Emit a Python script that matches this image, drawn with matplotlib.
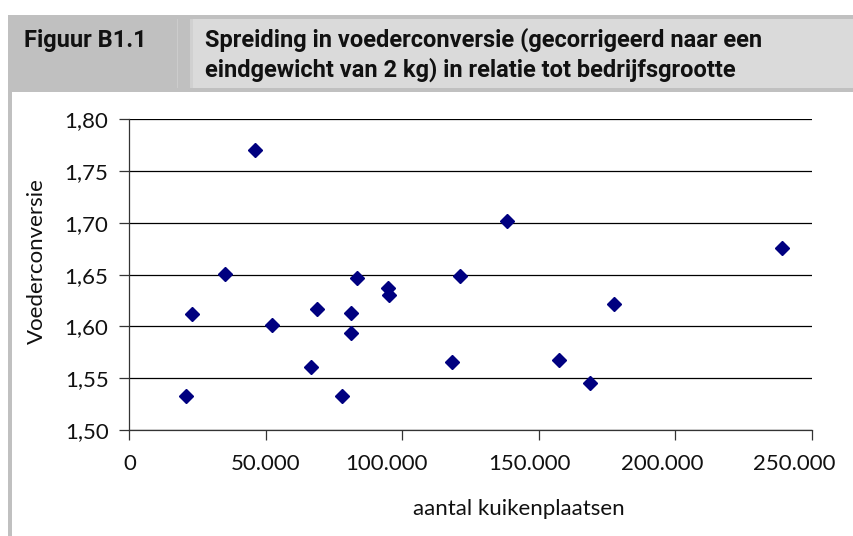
import matplotlib
matplotlib.use("Agg")
import matplotlib.pyplot as plt
from matplotlib.patches import Rectangle
from matplotlib.ticker import FuncFormatter, MultipleLocator

# aantal kuikenplaatsen vs voederconversie
kuikenplaatsen = [20900, 23100, 35200, 46200, 52400, 66400, 68900, 78100,
                  81400, 81400, 83600, 94600, 95300, 118400, 121000, 138200,
                  157600, 168600, 177400, 239000]
voederconversie = [1.533, 1.612, 1.651, 1.770, 1.601, 1.561, 1.617, 1.533,
                   1.613, 1.594, 1.647, 1.637, 1.630, 1.566, 1.649, 1.702,
                   1.568, 1.545, 1.622, 1.676]

x_ticks = [0, 50000, 100000, 150000, 200000, 250000]
figuur_nr = "Figuur B1.1"
titel = ["Spreiding in voederconversie (gecorrigeerd naar een",
         "eindgewicht van 2 kg) in relatie tot bedrijfsgrootte"]
x_label = "aantal kuikenplaatsen"
y_label = "Voederconversie"

W, H = 854, 536
fig = plt.figure(figsize=(W / 100, H / 100), dpi=100)


def fx(px):
    return px / W


def fy(py):
    return 1 - py / H


def rect(x0, y0, x1, y1, color):
    fig.add_artist(Rectangle((fx(x0), fy(y1)), fx(x1) - fx(x0), fy(y0) - fy(y1),
                             transform=fig.transFigure, facecolor=color,
                             edgecolor="none", zorder=0))


# kop-balk
rect(8, 15, 854, 92, "#c0c0c0")
rect(193, 19, 854, 88, "#dadada")
rect(177, 19, 178, 88, "#cccccc")
rect(190, 19, 193, 88, "#d0d0d0")
# grijze balk links
rect(8, 92, 12, 536, "#c0c0c0")

head_font = ["Roboto", "DejaVu Sans"]
fig.text(fx(24), fy(47), figuur_nr, fontsize=17, fontweight="bold",
         family=head_font, va="baseline", ha="left", color="#111111")
fig.text(fx(205), fy(47), titel[0], fontsize=17, fontweight="bold",
         family=head_font, va="baseline", ha="left", color="#111111")
fig.text(fx(205), fy(77), titel[1], fontsize=17, fontweight="bold",
         family=head_font, va="baseline", ha="left", color="#111111")

ax = fig.add_axes([fx(129.3), fy(430), fx(811.7) - fx(129.3), fy(119.3) - fy(430)])
ax.plot(kuikenplaatsen, voederconversie, linestyle="none", marker="D",
        ms=7, color="#000080", zorder=3, clip_on=False)

ax.set_xlim(0, 250000)
ax.set_ylim(1.50, 1.80)
ax.set_xticks(x_ticks)
ax.yaxis.set_major_locator(MultipleLocator(0.05))
ax.yaxis.set_major_formatter(FuncFormatter(lambda v, p: f"{v:.2f}".replace(".", ",")))

ax.grid(axis="y", color="#000000", linewidth=0.9)
ax.set_axisbelow(True)
for s in ["top", "right"]:
    ax.spines[s].set_visible(False)
for s in ["left", "bottom"]:
    ax.spines[s].set_color("#333333")
    ax.spines[s].set_linewidth(0.9)

tick_font = ["Lato", "DejaVu Sans"]
ax.tick_params(axis="both", direction="out", length=7, width=0.9, color="#333333",
               labelsize=16, labelcolor="#111111")
ax.tick_params(axis="x", labelbottom=False)
ax.tick_params(axis="y", pad=8)
for lab in ax.get_yticklabels():
    lab.set_family(tick_font)

# Excel zet de x-labels niet precies onder de streepjes
label_shift = [1, 0, -16, -9, -13, -17]
for v, dx in zip(x_ticks, label_shift):
    ax.annotate(f"{v:,}".replace(",", "."), xy=(v, 0),
                xycoords=("data", "axes fraction"), xytext=(dx, -24),
                textcoords="offset pixels", ha="center", va="top",
                fontsize=16, family=tick_font, color="#111111",
                annotation_clip=False)

fig.text(fx(519), fy(509), x_label, fontsize=16, family=tick_font,
         ha="center", va="center", color="#111111")
fig.text(fx(37), fy(261), y_label, fontsize=16, family=tick_font, rotation=90,
         ha="center", va="center", color="#111111")

fig.savefig("out.png", dpi=100)
